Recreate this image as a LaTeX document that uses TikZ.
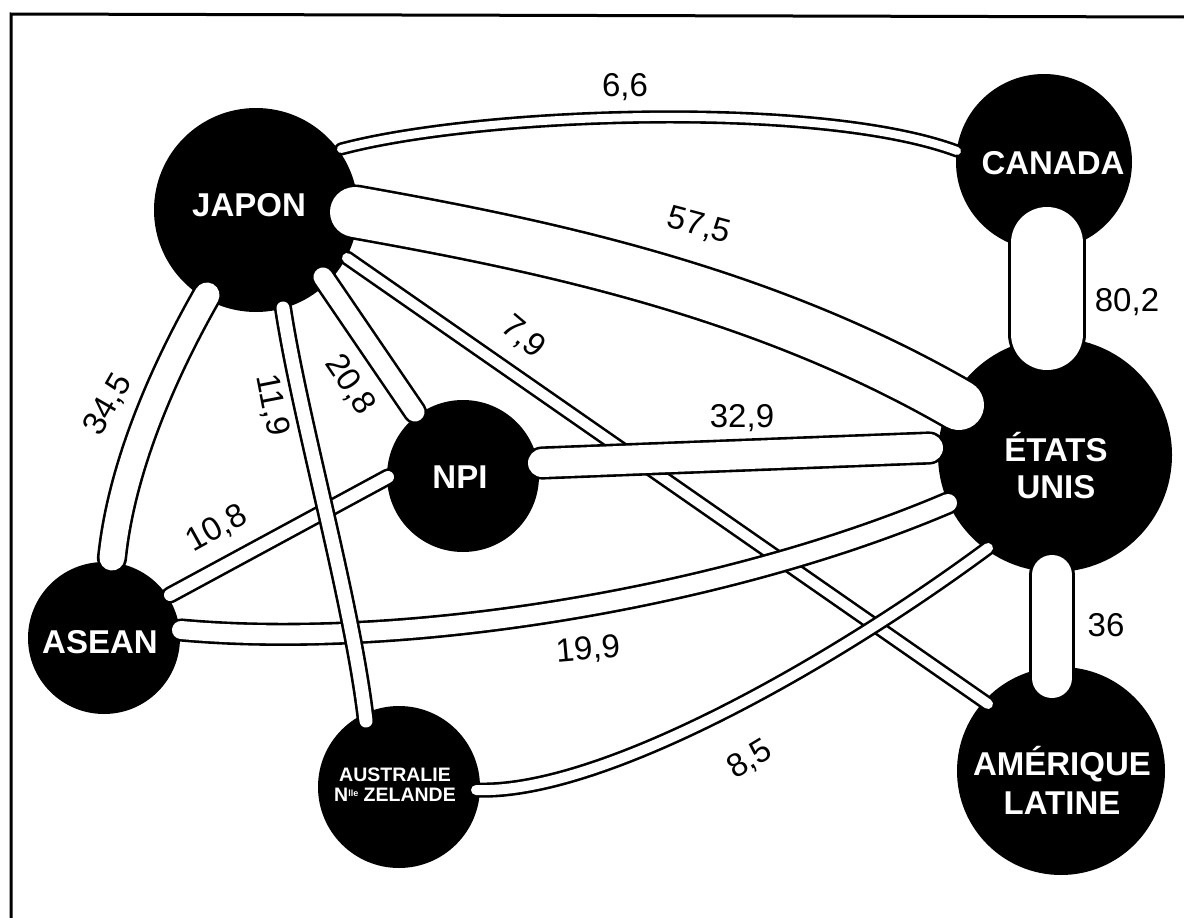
\documentclass[tikz,border=0pt]{standalone}
\usepackage{fontspec}
\setmainfont{Liberation Sans}
\usetikzlibrary{calc}
\begin{document}
\begin{tikzpicture}[x=1pt,y=-1pt,
  land/.style={circle,fill=black,draw=none,inner sep=0pt,minimum size=#1},
  landname/.style={text=white,font=\bfseries\fontsize{33}{37}\selectfont,align=center,inner sep=0pt},
  band/.style={draw=black,line width=2.6pt,double=white,double distance=#1,line cap=round},
  val/.style={font=\fontsize{33}{33}\selectfont,inner sep=0pt},
  framelin/.style={line width=3pt}]
\useasboundingbox (0,0) rectangle (1184,918);
\draw[framelin] (11,918) -- (11,14) -- (1184,17);

% countries
\node[land=204pt] (japon) at (256,210) {};
\node[land=176pt] (canada) at (1044,162) {};
\node[land=234pt] (usa) at (1055,455) {};
\node[land=152pt] (npi) at (463,476) {};
\node[land=152pt] (asean) at (104,638) {};
\node[land=162pt] (aus) at (399,787) {};
\node[land=208pt] (amlat) at (1061,771) {};

% bands (bottom to top)
\draw[band=10pt] ($(japon)+(91,48)$) -- ($(amlat)+(-73,-67)$); % 7,9
\draw[band=10pt] ($(aus)+(77,3)$) .. controls (600,795) and (830,665) .. ($(usa)+(-67,93)$); % 8,5
\draw[band=18pt] ($(asean)+(77,-8)$) .. controls (400,650) and (720,600) .. ($(usa)+(-107,48)$); % 19,9
\draw[band=28pt] ($(npi)+(79,-13)$) -- ($(usa)+(-126,-7)$); % 32,9
\draw[band=12pt] ($(asean)+(66,-43)$) -- ($(npi)+(-75,1)$); % 10,8
\draw[band=13pt] ($(japon)+(27,98)$) .. controls (300,420) and (352,600) .. ($(aus)+(-33,-66)$); % 11,9
\draw[band=25pt] ($(japon)+(-49,85)$) .. controls (170,360) and (122,460) .. ($(asean)+(8,-80)$); % 34,5
\draw[band=19pt] ($(japon)+(67,67)$) -- ($(npi)+(-48,-64)$); % 20,8
\draw[band=8pt] ($(japon)+(85,-61)$) .. controls (480,112) and (820,100) .. ($(canada)+(-87,-11)$); % 6,6
\draw[band=50pt] ($(japon)+(99,2)$) .. controls (540,245) and (760,290) .. ($(usa)+(-96,-50)$); % 57,5
\draw[band=72pt] ($(canada)+(3,81)$) -- ($(usa)+(-8,-121)$); % 80,2
\draw[band=40pt] ($(usa)+(-3,120)$) -- ($(amlat)+(-9,-93)$); % 36

% country names
\node[landname] (tjapon) at (249,205) {JAPON};
\node[landname] (tcanada) at (1053,163) {CANADA};
\node[landname] (tusa) at (1056,466) {ÉTATS\\UNIS};
\node[landname] (tnpi) at (460,477) {NPI};
\node[landname] (tasean) at (100,642) {ASEAN};
\node[landname,font=\bfseries\fontsize{19.5}{20}\selectfont] (taus) at (395,785) {AUSTRALIE\\N\raisebox{5pt}{\fontsize{9}{9}\selectfont lle} ZELANDE};
\node[landname,font=\bfseries\fontsize{33}{39}\selectfont] (tamlat) at (1062,780) {AMÉRIQUE\\LATINE};

% values
\node[val] (v66) at (625,87) {6,6};
\node[val,rotate=-15] (v575) at (699,226) {57,5};
\node[val] (v802) at (1127,302) {80,2};
\node[val] (v36) at (1106,625) {36};
\node[val] (v329) at (742,418) {32,9};
\node[val,rotate=-40] (v79) at (523,337) {7,9};
\node[val,rotate=-56] (v208) at (350,385) {20,8};
\node[val,rotate=-79] (v119) at (272,405) {11,9};
\node[val,rotate=60] (v345) at (108,405) {34,5};
\node[val,rotate=29] (v108) at (217,529) {10,8};
\node[val,rotate=5] (v199) at (588,650) {19,9};
\node[val,rotate=31] (v85) at (750,760) {8,5};
\end{tikzpicture}
\end{document}
